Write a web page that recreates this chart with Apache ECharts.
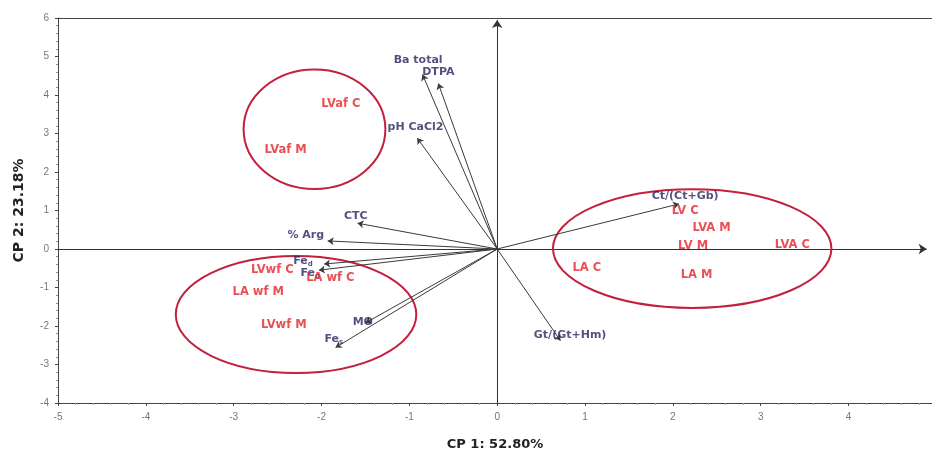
<!DOCTYPE html>
<html>
<head>
<meta charset="utf-8">
<script src="https://cdn.jsdelivr.net/npm/echarts@6/dist/echarts.min.js"></script>
<style>html,body{margin:0;padding:0;background:#fff}#c{width:932px;height:456px}</style>
</head>
<body>
<div id="c"></div>
<script>
// Sample scores (CP1, CP2)
const sampleNames = ['LVaf C','LVaf M','LVwf C','LA wf C','LA wf M','LVwf M','LA C','LA M','LV C','LVA M','LV M','LVA C'];
const sampleX = [-1.78,-2.41,-2.56,-1.90,-2.72,-2.43,1.02,2.27,2.14,2.44,2.23,3.36];
const sampleY = [3.76,2.56,-0.54,-0.75,-1.11,-1.97,-0.49,-0.67,0.98,0.54,0.08,0.10];

// Variable loadings (arrow tips) and label anchors
const varNames = ['Ba total','DTPA','pH CaCl2','CTC','% Arg','Fe{s|d}','Fe{s|o}','MO','Fe{s|s}','Gt/(Gt+Hm)','Ct/(Ct+Gb)'];
const varX = [-0.85,-0.67,-0.91,-1.59,-1.93,-1.97,-2.03,-1.50,-1.84,0.72,2.07];
const varY = [4.53,4.30,2.88,0.67,0.21,-0.39,-0.55,-1.92,-2.56,-2.38,1.17];
const varLabelX = [-0.90,-0.67,-0.93,-1.61,-2.18,-2.21,-2.13,-1.53,-1.86,0.83,2.14];
const varLabelY = [4.90,4.59,3.16,0.85,0.36,-0.31,-0.62,-1.89,-2.33,-2.25,1.37];

// Group ellipses: centre x, centre y, radius x, radius y (data units)
const ellipseCX = [-2.08,-2.29,2.22];
const ellipseCY = [3.11,-1.70,0.01];
const ellipseRX = [0.807,1.369,1.585];
const ellipseRY = [1.55,1.52,1.54];

// Axis ranges / titles
const xMin = -5, xMax = 4.95, yMin = -4, yMax = 6;
const xTitle = 'CP 1: 52.80%';
const yTitle = 'CP 2: 23.18%';

const RED = '#e3242b';
const NAVY = '#25255f';
const ELL = '#c2203c';
const FONT = 'DejaVu Sans, Liberation Sans, sans-serif';

const chart = echarts.init(document.getElementById('c'));

const ellipseData = ellipseCX.map((v,i)=>[v, ellipseCY[i], ellipseRX[i], ellipseRY[i]]);
const vectorData = varX.map((v,i)=>({coords:[[0,0],[v,varY[i]]]}));
const varLabelData = varLabelX.map((v,i)=>({name:varNames[i], value:[v,varLabelY[i]]}));
const sampleData = sampleX.map((v,i)=>({name:sampleNames[i], value:[v,sampleY[i]]}));

chart.setOption({
  animation:false,
  backgroundColor:'#fff',
  textStyle:{fontFamily:FONT},
  grid:{left:58, right:0, top:18, bottom:53, containLabel:false, outerBoundsMode:'none'},
  xAxis:[{
    type:'value', min:xMin, max:xMax, interval:1,
    axisLine:{show:true, onZero:false, lineStyle:{color:'#444'}},
    axisTick:{show:true, length:3, lineStyle:{color:'#444'}},
    minorTick:{show:true, splitNumber:5, length:2, lineStyle:{color:'#999'}},
    splitLine:{show:false},
    axisLabel:{color:'#777', fontSize:10, margin:9, showMaxLabel:false, fontFamily:'Liberation Sans, sans-serif'},
    name:xTitle, nameLocation:'middle', nameGap:35,
    nameTextStyle:{fontSize:13, fontWeight:'bold', color:'#222'}
  },{
    type:'value', position:'top', min:xMin, max:xMax, interval:1,
    axisLine:{show:true, onZero:false, lineStyle:{color:'#444'}},
    axisTick:{show:false}, axisLabel:{show:false}, splitLine:{show:false}
  }],
  yAxis:{
    type:'value', min:yMin, max:yMax, interval:1,
    axisLine:{show:true, onZero:false, lineStyle:{color:'#444'}},
    axisTick:{show:true, length:3, lineStyle:{color:'#444'}},
    minorTick:{show:true, splitNumber:5, length:2, lineStyle:{color:'#999'}},
    splitLine:{show:false},
    axisLabel:{color:'#777', fontSize:10, margin:9, fontFamily:'Liberation Sans, sans-serif'},
    name:yTitle, nameLocation:'middle', nameGap:32,
    nameTextStyle:{fontSize:14, fontWeight:'bold', color:'#222'}
  },
  series:[
    {
      type:'lines', coordinateSystem:'cartesian2d', silent:true, z:2,
      symbol:['none','arrow'], symbolSize:8,
      lineStyle:{color:'#333', width:1, opacity:1},
      data:[{coords:[[0,yMin],[0,yMax-0.05]]},{coords:[[xMin,0],[xMax-0.06,0]]}]
    },
    {
      type:'custom', coordinateSystem:'cartesian2d', silent:true, z:3,
      data:ellipseData,
      renderItem:function(params, api){
        const c = api.coord([api.value(0), api.value(1)]);
        const s = api.size([api.value(2), api.value(3)]);
        const rx = s[0], ry = s[1];
        const d = 'M '+(c[0]-rx)+' '+c[1]+' A '+rx+' '+ry+' 0 1 0 '+(c[0]+rx)+' '+c[1]+' A '+rx+' '+ry+' 0 1 0 '+(c[0]-rx)+' '+c[1]+' Z';
        return {type:'path', shape:{pathData:d}, style:{fill:'none', stroke:ELL, lineWidth:2}};
      }
    },
    {
      type:'lines', coordinateSystem:'cartesian2d', silent:true, z:4,
      symbol:['none','arrow'], symbolSize:6,
      lineStyle:{color:'#3a3a3a', width:1, opacity:1},
      data:vectorData
    },
    {
      type:'scatter', silent:true, z:5, symbolSize:0,
      data:varLabelData,
      label:{show:true, position:'inside', formatter:'{b}', color:NAVY, fontSize:11, fontWeight:'bold',
        rich:{s:{fontSize:7, fontWeight:'bold', color:NAVY, verticalAlign:'bottom', padding:[6,0,0,0]}}}
    },
    {
      type:'scatter', silent:true, z:6, symbolSize:0,
      data:sampleData,
      label:{show:true, position:'inside', formatter:'{b}', color:RED, fontSize:11.5, fontWeight:'bold'}
    }
  ]
});
</script>
</body>
</html>
